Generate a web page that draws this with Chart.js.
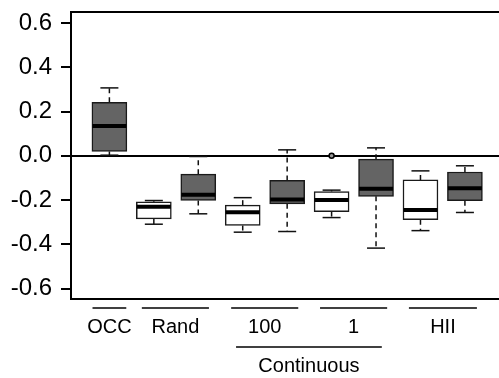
<!DOCTYPE html>
<html>
<head>
<meta charset="utf-8">
<script src="https://cdn.jsdelivr.net/npm/chart.js@4"></script>
<style>
  html, body { margin: 0; padding: 0; background: #fff; }
  #wrap { width: 499px; height: 378px; }
</style>
</head>
<body>
<div id="wrap"><canvas id="chart"></canvas></div>
<script>
// box positions along the x axis (one per box)
const positions = [1, 2, 3, 4, 5, 6, 7, 8, 9];
const fills = ['grey', 'white', 'grey', 'white', 'grey', 'white', 'grey', 'white', 'grey'];

// five-number summaries
const whiskerHigh = [0.307, -0.202, -0.003, -0.189, 0.027, -0.155, 0.036, -0.068, -0.045];
const q3 =          [0.242, -0.208, -0.083, -0.223, -0.111, -0.161, -0.015, -0.109, -0.073];
const medians =     [0.135, -0.230, -0.176, -0.255, -0.197, -0.200, -0.149, -0.245, -0.147];
const q1 =          [0.020, -0.285, -0.202, -0.315, -0.217, -0.252, -0.183, -0.289, -0.203];
const whiskerLow =  [0.003, -0.309, -0.262, -0.345, -0.342, -0.279, -0.417, -0.338, -0.256];

// outliers
const outlierX = [6];
const outlierY = [0.0];

// group labels under the axis
const groupLabels = ['OCC', 'Rand', '100', '1', 'HII'];
const groupFrom =   [0.62, 1.73, 3.74, 5.74, 7.74];
const groupTo =     [1.38, 3.24, 5.25, 7.25, 9.27];
const superLabels = ['Continuous'];
const superFrom =   [3.85];
const superTo =     [7.13];

const yTicks = [-0.6, -0.4, -0.2, 0.0, 0.2, 0.4, 0.6];
const yTickLabels = ['-0.6', '-0.4', '-0.2', '0.0', '0.2', '0.4', '0.6'];

const GREY = '#646464';
const FONT = "'Liberation Sans', Arial, sans-serif";

function seg(ctx, x1, y1, x2, y2) {
    ctx.beginPath();
    ctx.moveTo(x1, y1);
    ctx.lineTo(x2, y2);
    ctx.stroke();
}

const boxParts = {
    id: 'boxParts',
    beforeDatasetsDraw(chart) {
        const { ctx, scales: { x, y } } = chart;
        ctx.save();
        ctx.strokeStyle = '#111';
        ctx.lineWidth = 1.5;
        positions.forEach((p, i) => {
            const px = x.getPixelForValue(p);
            // dashed whiskers
            ctx.setLineDash([5, 4]);
            seg(ctx, px, y.getPixelForValue(q3[i]), px, y.getPixelForValue(whiskerHigh[i]));
            seg(ctx, px, y.getPixelForValue(q1[i]), px, y.getPixelForValue(whiskerLow[i]));
            ctx.setLineDash([]);
            // caps
            seg(ctx, px - 9, y.getPixelForValue(whiskerHigh[i]), px + 9, y.getPixelForValue(whiskerHigh[i]));
            seg(ctx, px - 9, y.getPixelForValue(whiskerLow[i]), px + 9, y.getPixelForValue(whiskerLow[i]));
        });
        ctx.restore();
    },
    afterDatasetsDraw(chart) {
        const { ctx, scales: { x, y } } = chart;
        ctx.save();
        ctx.strokeStyle = '#000';
        ctx.lineWidth = 4;
        positions.forEach((p, i) => {
            const px = x.getPixelForValue(p);
            const py = y.getPixelForValue(medians[i]);
            seg(ctx, px - 17, py, px + 17, py);
        });
        // outlier points
        ctx.lineWidth = 1.5;
        ctx.fillStyle = '#999';
        outlierX.forEach((v, i) => {
            ctx.beginPath();
            ctx.arc(x.getPixelForValue(v), y.getPixelForValue(outlierY[i]), 2.5, 0, Math.PI * 2);
            ctx.fill();
            ctx.stroke();
        });
        ctx.restore();
    },
    afterDraw(chart) {
        const { ctx, chartArea, scales: { x } } = chart;
        ctx.save();
        ctx.strokeStyle = '#000';
        ctx.lineWidth = 2;
        // top frame line
        seg(ctx, chartArea.left, chartArea.top, chartArea.right, chartArea.top);

        ctx.lineWidth = 1.5;
        ctx.fillStyle = '#000';
        ctx.font = '20px ' + FONT;
        ctx.textAlign = 'center';
        ctx.textBaseline = 'middle';
        const base = chartArea.bottom;
        groupLabels.forEach((lab, i) => {
            const a = x.getPixelForValue(groupFrom[i]);
            const b = x.getPixelForValue(groupTo[i]);
            seg(ctx, a, base + 9, b, base + 9);
            ctx.fillText(lab, (a + b) / 2, base + 28);
        });
        superLabels.forEach((lab, i) => {
            const a = x.getPixelForValue(superFrom[i]);
            const b = x.getPixelForValue(superTo[i]);
            seg(ctx, a, base + 48, b, base + 48);
            ctx.fillText(lab, (a + b) / 2, base + 67);
        });
        ctx.restore();
    }
};

new Chart(document.getElementById('chart'), {
    type: 'bar',
    data: {
        datasets: [{
            data: positions.map((p, i) => ({ x: p, y: [q1[i], q3[i]] })),
            backgroundColor: fills.map(f => f === 'grey' ? GREY : '#fff'),
            borderColor: '#1a1a1a',
            borderWidth: 1.5,
            borderSkipped: false,
            barThickness: 35
        }]
    },
    plugins: [boxParts],
    options: {
        responsive: true,
        maintainAspectRatio: false,
        animation: false,
        layout: { padding: { top: 12, left: 0, right: 0, bottom: 0 } },
        plugins: {
            legend: { display: false },
            tooltip: { enabled: false },
            title: { display: false }
        },
        scales: {
            x: {
                type: 'linear',
                offset: false,
                min: 0.136,
                max: 9.767,
                grid: { drawOnChartArea: false, drawTicks: false },
                ticks: { display: false },
                border: { display: true, color: '#000', width: 2 },
                afterFit(scale) {
                    scale.height = 79;
                    scale.paddingLeft = 0;
                    scale.paddingRight = 0;
                }
            },
            y: {
                min: -0.647,
                max: 0.65,
                afterBuildTicks(scale) {
                    scale.ticks = yTicks.map(v => ({ value: v }));
                },
                ticks: {
                    color: '#000',
                    padding: 9,
                    font: { family: FONT, size: 24 },
                    callback: (v, i) => yTickLabels[i]
                },
                grid: {
                    drawOnChartArea: true,
                    drawTicks: true,
                    tickLength: 10,
                    tickColor: '#000',
                    lineWidth: 2,
                    color: c => (c.tick && c.tick.value === 0) ? '#000' : 'rgba(0,0,0,0)'
                },
                border: { display: true, color: '#000', width: 2 },
                afterFit(scale) {
                    scale.width = 71;
                    scale.paddingTop = 0;
                    scale.paddingBottom = 0;
                }
            }
        }
    }
});
</script>
</body>
</html>
